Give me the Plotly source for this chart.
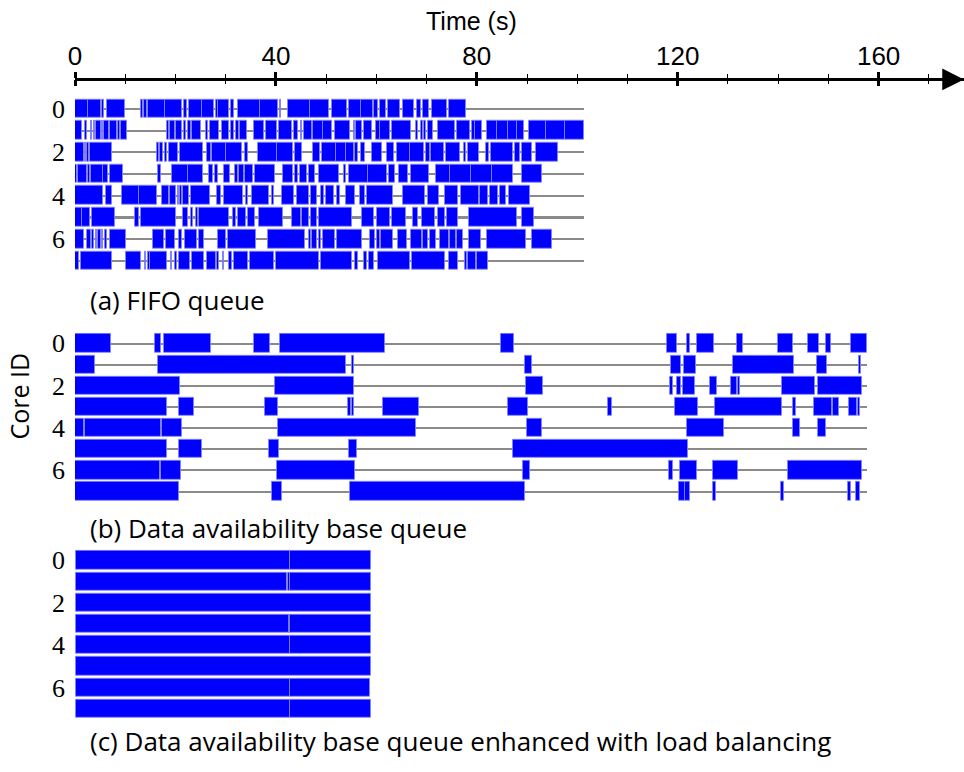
import plotly.graph_objects as go

# ---------------------------------------------------------------- data
CORE_IDS = [0, 1, 2, 3, 4, 5, 6, 7]
CORE_TICKS = [0, 2, 4, 6]
TIME_TICKS = [0, 40, 80, 120, 160]
TIME_MAX = 177

# time at which each schedule's core timelines stop (s)
FIFO_END = 101.4
DATA_END = 157.7

# (start, end) in seconds of every busy interval, one list per core
FIFO_TASKS = [
    [(0, 2.6), (2.6, 5.2), (5.4, 5.7), (6.3, 9.9), (13.2, 13.5), (13.8, 14.3), (14.6, 17.9), (17.9, 21.3),
     (21.8, 22.2), (22.6, 25.2), (25.2, 27.6), (28.0, 28.4), (28.5, 30.7), (31.1, 31.7), (32.4, 36.8),
     (36.9, 40.5), (40.8, 41.0), (42.5, 46.7), (46.7, 50.5), (51.2, 54.2), (54.5, 57.0), (57.0, 59.3),
     (59.6, 60.3), (60.8, 62.0), (62.4, 64.8), (65.4, 67.4), (68.1, 68.8), (69.3, 70.4), (71.1, 74.1),
     (74.5, 77.9)],
    [(0, 1.4), (1.9, 2.4), (3.1, 3.4), (3.7, 3.9), (4.2, 5.1), (5.3, 5.5), (5.7, 6.7), (6.9, 8.4),
     (8.5, 8.9), (9.1, 10.4), (18.3, 18.8), (19.0, 20.0), (20.2, 21.3), (21.8, 22.1), (22.5, 23.0),
     (23.3, 25.0), (26.0, 26.5), (26.8, 28.6), (29.2, 30.6), (31.1, 31.6), (32.1, 32.6), (32.9, 34.3),
     (35.7, 37.7), (38.1, 40.2), (40.6, 43.2), (43.7, 44.3), (44.9, 45.2), (45.5, 47.2), (47.4, 49.3),
     (49.3, 51.2), (51.7, 54.8), (55.5, 55.8), (56.0, 57.2), (57.6, 59.1), (59.9, 60.8), (60.8, 62.8),
     (63.1, 66.8), (67.9, 68.3), (68.8, 69.2), (69.4, 69.8), (70.3, 71.2), (72.3, 75.6), (76.1, 78.7),
     (79.0, 79.6), (79.7, 81.0), (82.0, 84.1), (84.1, 86.2), (86.2, 88.0), (88.0, 89.3), (90.3, 93.8),
     (93.8, 97.5), (97.5, 101.3)],
    [(0, 1.75), (1.95, 2.2), (2.4, 2.75), (2.95, 7.4), (16.4, 16.8), (17.0, 17.5), (18.0, 18.4),
     (18.75, 20.5), (21.0, 25.4), (26.2, 27.0), (27.2, 30.1), (30.1, 33.3), (33.9, 34.4), (36.5, 40.2),
     (40.2, 43.5), (43.9, 45.1), (47.4, 48.7), (49.2, 52.0), (52.0, 54.0), (54.0, 55.5), (55.7, 56.3),
     (57.0, 57.8), (59.1, 61.1), (62.1, 63.6), (64.1, 66.7), (66.7, 69.4), (69.9, 70.7), (70.9, 73.4),
     (73.9, 76.7), (77.4, 77.9), (78.2, 80.4), (81.8, 82.5), (82.9, 87.3), (87.7, 88.5), (89.0, 90.9),
     (91.8, 96.1)],
    [(0, 0.3), (0.6, 2.4), (2.5, 2.9), (3.1, 5.5), (5.5, 6.6), (6.9, 9.5), (16.5, 17.1), (19.3, 22.4),
     (22.4, 25.5), (26.6, 27.5), (27.8, 28.5), (29.6, 30.9), (31.8, 32.5), (32.6, 33.6), (33.9, 35.5),
     (35.9, 39.8), (41.4, 43.4), (43.9, 44.3), (44.7, 46.2), (46.5, 47.7), (48.5, 52.5), (53.5, 54.0),
     (54.5, 58.3), (58.3, 62.1), (62.6, 63.8), (64.6, 66.2), (66.9, 70.4), (71.9, 74.7), (74.7, 78.9),
     (78.9, 83.1), (83.1, 87.3), (89.0, 93.0)],
    [(0, 5.5), (6.1, 7.3), (9.3, 12.8), (12.8, 16.4), (17.4, 18.8), (19.0, 20.2), (20.5, 20.8),
     (21.0, 21.3), (21.6, 22.6), (23.0, 26.8), (28.3, 29.0), (29.6, 33.5), (34.1, 34.5), (35.3, 38.6),
     (39.2, 39.7), (41.2, 43.7), (44.1, 46.5), (47.0, 48.2), (48.9, 49.5), (49.9, 51.5), (52.2, 52.7),
     (54.0, 55.8), (56.8, 57.8), (58.2, 63.3), (65.4, 69.6), (70.3, 72.5), (73.6, 76.3), (76.9, 80.4),
     (80.7, 82.2), (82.7, 84.2), (84.7, 85.8), (86.5, 90.6)],
    [(0, 1.3), (1.4, 2.9), (3.4, 7.9), (11.9, 12.8), (13.2, 20.2), (21.5, 22.5), (23.0, 23.4),
     (24.0, 24.5), (24.6, 30.6), (31.5, 32.1), (32.5, 34.0), (34.4, 35.9), (36.7, 41.4), (43.2, 44.9),
     (45.2, 46.5), (46.9, 48.2), (48.5, 55.2), (57.2, 59.5), (60.1, 62.8), (63.1, 65.9), (67.2, 68.3),
     (69.1, 71.7), (72.3, 73.6), (74.1, 76.3), (78.5, 88.0), (88.9, 91.4)],
    [(0, 1.75), (2.4, 3.1), (3.4, 3.7), (4.1, 4.4), (4.6, 5.1), (5.3, 5.5), (5.9, 6.4), (6.9, 10.2),
     (15.5, 17.7), (18.2, 20.0), (20.8, 21.3), (21.9, 24.2), (24.6, 25.6), (28.5, 30.1), (30.4, 36.1),
     (38.4, 45.7), (46.5, 47.0), (47.2, 48.2), (48.5, 48.9), (49.4, 51.8), (52.2, 57.2), (58.8, 59.8),
     (60.1, 60.8), (61.0, 63.3), (64.4, 66.1), (66.8, 69.0), (69.2, 70.3), (70.7, 71.9), (72.7, 74.4),
     (74.6, 75.9), (76.1, 77.2), (78.4, 80.9), (82.0, 89.7), (91.0, 95.0)],
    [(0, 0.75), (1.1, 7.4), (10.2, 13.2), (14.0, 14.2), (14.5, 14.9), (15.0, 18.3), (19.2, 19.35),
     (20.0, 20.3), (20.7, 22.8), (23.2, 25.6), (26.2, 28.0), (28.3, 28.6), (29.4, 29.75), (30.7, 31.3),
     (31.6, 34.4), (34.9, 39.6), (40.0, 48.5), (48.9, 55.2), (55.7, 56.3), (57.5, 58.2), (58.5, 59.5),
     (60.3, 66.6), (67.1, 73.6), (74.4, 76.3), (77.6, 78.1), (78.2, 79.8), (80.0, 82.3)],
]

DATA_TASKS = [
    [(0, 7.2), (16.0, 17.2), (17.7, 27.1), (35.7, 38.8), (40.8, 61.7), (84.8, 87.4), (117.9, 119.9),
     (121.9, 122.5), (123.9, 127.3), (131.8, 132.9), (139.9, 143.0), (145.9, 148.1), (149.6, 150.5),
     (154.5, 157.7)],
    [(0, 3.9), (16.5, 54.0), (55.2, 55.6), (89.5, 91.0), (118.6, 120.6), (121.2, 123.7), (131.0, 143.2),
     (147.7, 149.7), (156.1, 156.4)],
    [(0, 20.9), (39.9, 55.6), (89.7, 93.1), (118.5, 119.0), (119.9, 120.6), (121.0, 123.5), (126.5, 127.9),
     (130.6, 131.9), (132.1, 132.4), (140.8, 147.4), (147.9, 156.7)],
    [(0, 18.4), (20.7, 23.6), (37.8, 40.4), (54.4, 55.0), (55.2, 55.5), (61.3, 68.4), (86.3, 90.2),
     (106.2, 107.0), (119.5, 124.1), (127.5, 140.7), (142.9, 143.6), (147.2, 150.7), (151.0, 152.2),
     (154.2, 155.6), (155.9, 156.2)],
    [(0, 1.75), (1.9, 17.1), (17.4, 21.3), (40.4, 67.8), (90.0, 93.0), (121.8, 129.3), (143.0, 144.4),
     (148.0, 149.5)],
    [(0, 18.4), (20.8, 25.2), (38.6, 40.6), (54.6, 56.2), (87.2, 122.0)],
    [(0, 17.0), (17.15, 21.1), (40.2, 55.8), (89.2, 90.6), (118.3, 119.0), (120.5, 123.8), (127.1, 132.1),
     (141.9, 156.7)],
    [(0, 20.7), (39.2, 41.3), (54.8, 89.5), (120.3, 121.4), (121.5, 122.5), (127.0, 127.6), (140.6, 141.1),
     (153.9, 154.5), (155.5, 156.2)],
]

BALANCED_TASKS = [
    [(0.1, 42.8), (42.8, 59.0)],
    [(0.1, 42.3), (42.4, 42.8), (42.8, 58.9)],
    [(0.1, 59.0)],
    [(0.1, 42.6), (42.6, 42.9), (42.9, 59.0)],
    [(0.1, 42.8), (42.8, 59.0)],
    [(0.1, 59.0)],
    [(0.1, 42.9), (42.9, 58.8)],
    [(0.1, 42.9), (42.9, 59.0)],
]

CAPTIONS = [
    "(a) FIFO queue",
    "(b) Data availability base queue",
    "(c) Data availability base queue enhanced with load balancing",
]

# ---------------------------------------------------------------- styling
BLUE = "#0000ff"
EDGE = "rgba(130,130,255,0.85)"
GREY = "#8a8a8a"
SANS = "'Open Sans', Lato, 'DejaVu Sans', sans-serif"
SERIF = "'Liberation Serif', 'DejaVu Serif', serif"
NARROW = "'Liberation Sans Narrow', 'Liberation Sans', sans-serif"

W, H = 964, 772
AXIS_Y = 1 - 76.7 / H
PANEL_DOMAINS = [
    [1 - 269.7 / H, 1 - 95.1 / H],
    [1 - 500.9 / H, 1 - 331.1 / H],
    [1 - 719.0 / H, 1 - 548.9 / H],
]
CAPTION_Y = [1 - 298 / H, 1 - 527 / H, 1 - 741 / H]


def timeline(end, xa, ya):
    return go.Bar(
        orientation="h", y=CORE_IDS, base=[0] * len(CORE_IDS), x=[end] * len(CORE_IDS),
        width=0.1, marker=dict(color=GREY, line=dict(width=0)),
        xaxis=xa, yaxis=ya, hoverinfo="skip", showlegend=False,
    )


def task_bars(tasks, xa, ya):
    ys, bases, lens = [], [], []
    for core, segs in zip(CORE_IDS, tasks):
        for s, e in segs:
            ys.append(core)
            bases.append(s)
            lens.append(e - s)
    return go.Bar(
        orientation="h", y=ys, base=bases, x=lens, width=0.86,
        marker=dict(color=BLUE, line=dict(color=EDGE, width=1)),
        xaxis=xa, yaxis=ya, hoverinfo="skip", showlegend=False,
    )


fig = go.Figure()
fig.add_trace(timeline(FIFO_END, "x", "y"))
fig.add_trace(task_bars(FIFO_TASKS, "x", "y"))
fig.add_trace(timeline(DATA_END, "x2", "y2"))
fig.add_trace(task_bars(DATA_TASKS, "x2", "y2"))
fig.add_trace(task_bars(BALANCED_TASKS, "x3", "y3"))
# carrier for the downward half of the time-axis ticks
fig.add_trace(go.Scatter(x=[], y=[], xaxis="x4", yaxis="y", showlegend=False, hoverinfo="skip"))

tick_common = dict(
    range=[0, TIME_MAX], tickmode="array", tickvals=TIME_TICKS,
    tickcolor="black", tickwidth=2.5, showgrid=False, zeroline=False,
    minor=dict(tickmode="linear", tick0=0, dtick=10, ticks="outside", ticklen=4,
               tickwidth=1, tickcolor="black", showgrid=False),
)

layout_axes = dict(
    xaxis=dict(
        anchor="free", position=AXIS_Y, side="top", ticks="outside", ticklen=6,
        showline=True, linewidth=3, linecolor="black",
        tickfont=dict(family=NARROW, size=26, color="black"), ticklabelstandoff=-3,
        **tick_common,
    ),
    xaxis4=dict(
        overlaying="x", anchor="free", position=AXIS_Y, side="bottom", ticks="outside",
        ticklen=6, showline=False, showticklabels=False, **tick_common,
    ),
    xaxis2=dict(matches="x", anchor="y2", visible=False, range=[0, TIME_MAX]),
    xaxis3=dict(matches="x", anchor="y3", visible=False, range=[0, TIME_MAX]),
)

for i, dom in enumerate(PANEL_DOMAINS):
    key = "yaxis" if i == 0 else f"yaxis{i + 1}"
    layout_axes[key] = dict(
        domain=dom, range=[7.5, -0.5], tickmode="array", tickvals=CORE_TICKS,
        ticktext=[str(v) for v in CORE_TICKS], ticks="", showgrid=False, zeroline=False,
        showline=False, anchor="x" if i == 0 else f"x{i + 1}",
        tickfont=dict(family=SERIF, size=26, color="black"), ticklabelstandoff=9,
    )

annotations = [
    dict(text="Time (s)", x=79, xref="x", y=1 - 18 / H, yref="paper",
         showarrow=False, font=dict(family=NARROW, size=25, color="black"),
         xanchor="center", yanchor="middle"),
    dict(text="Core ID", x=(19 - 75) / (W - 75), xref="paper", y=1 - 395 / H, yref="paper",
         textangle=-90, showarrow=False, font=dict(family=SANS, size=25, color="black"),
         xanchor="center", yanchor="middle"),
    dict(text="", x=TIME_MAX, xref="x", y=AXIS_Y, yref="paper", ax=-16, ay=0,
         showarrow=True, arrowhead=2, arrowsize=1.45, arrowwidth=3, arrowcolor="black",
         standoff=0),
]
for cap, cy in zip(CAPTIONS, CAPTION_Y):
    annotations.append(dict(
        text=cap, x=(88 - 75) / (W - 75), xref="paper", y=cy, yref="paper",
        showarrow=False, xanchor="left", yanchor="middle",
        font=dict(family=SANS, size=26, color="black"),
    ))

fig.update_layout(
    width=W, height=H,
    margin=dict(l=75, r=0, t=0, b=0),
    paper_bgcolor="white", plot_bgcolor="white",
    barmode="overlay", bargap=0,
    showlegend=False,
    annotations=annotations,
    **layout_axes,
)

fig.write_html("out.html")
